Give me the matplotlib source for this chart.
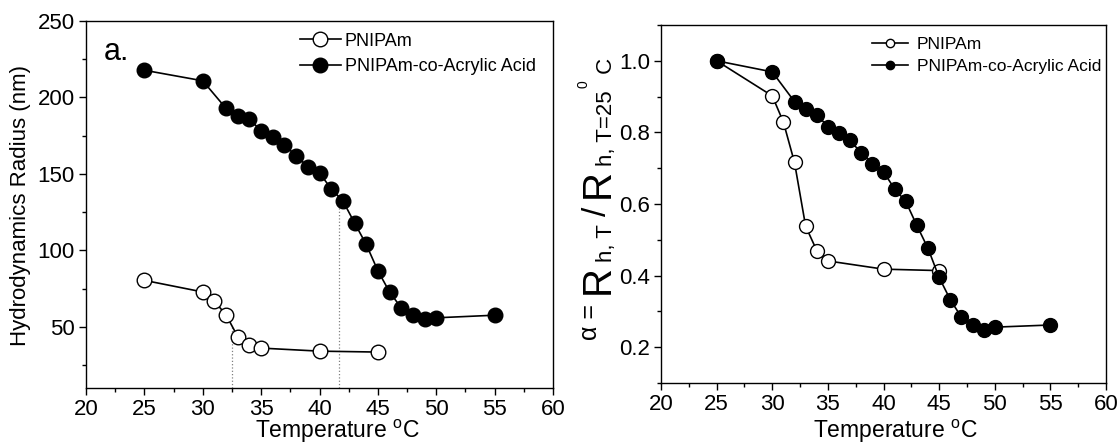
import matplotlib
matplotlib.use("Agg")
import matplotlib.pyplot as plt
from matplotlib.lines import Line2D
from matplotlib.ticker import MultipleLocator, FormatStrFormatter

plt.rcParams['font.family'] = ['Liberation Sans', 'DejaVu Sans']
plt.rcParams['mathtext.fontset'] = 'custom'
plt.rcParams['mathtext.rm'] = 'Liberation Sans'
plt.rcParams['mathtext.it'] = 'Liberation Sans'

# ---- data ----
temp_pnipam = [25, 30, 31, 32, 33, 34, 35, 40, 45]
rh_pnipam = [80.4, 72.8, 66.7, 57.8, 43.5, 37.8, 36.1, 34.1, 33.5]

temp_copoly = [25, 30, 32, 33, 34, 35, 36, 37, 38, 39, 40, 41, 42, 43, 44,
               45, 46, 47, 48, 49, 50, 55]
rh_copoly = [217.8, 210.9, 192.8, 188.0, 185.7, 178.3, 174.3, 169.1, 161.7,
             154.8, 150.7, 140.2, 132.4, 118.0, 103.9, 86.7, 72.8, 62.4, 57.6,
             54.8, 55.9, 57.6]

alpha_pnipam = [1.0, 0.902, 0.829, 0.716, 0.538, 0.470, 0.441, 0.418, 0.414]
alpha_copoly = [1.0, 0.969, 0.886, 0.864, 0.850, 0.816, 0.799, 0.778, 0.742,
                0.713, 0.690, 0.642, 0.607, 0.540, 0.476, 0.395, 0.333, 0.284,
                0.262, 0.248, 0.256, 0.262]

lcst_temps = [32.5, 41.65]
lcst_rh = [50.6, 135.0]

labels = ['PNIPAm', 'PNIPAm-co-Acrylic Acid']

W, H = 1118, 446
fig = plt.figure(figsize=(W / 100, H / 100), dpi=100)

def box(l, r, t, b):
    return [l / W, (H - b) / H, (r - l) / W, (b - t) / H]

ax1 = fig.add_axes(box(86, 553, 21, 388))
ax2 = fig.add_axes(box(661, 1106, 25, 383))

ms = 10.5
xlab = 'Temperature $^{\\mathregular{o}}$C'
for ax in (ax1, ax2):
    ax.set_xlim(20, 60)
    ax.xaxis.set_major_locator(MultipleLocator(5))
    ax.xaxis.set_minor_locator(MultipleLocator(2.5))
    ax.tick_params(which='both', direction='out', top=False, right=False,
                   labelsize=16, width=1, pad=3)
    ax.tick_params(which='major', length=5)
    ax.tick_params(which='minor', length=3)
    for s in ax.spines.values():
        s.set_linewidth(1)

ax1.set_xlabel(xlab, fontsize=16.5)
ax1.xaxis.set_label_coords((337 - 86) / 467, (388 - 418) / 367)
ax2.set_xlabel(xlab, fontsize=16.5)
ax2.xaxis.set_label_coords((895 - 661) / 445, (383 - 418) / 358)

# ---- left panel ----
for t, r in zip(lcst_temps, lcst_rh):
    ax1.plot([t, t], [10, r], color='gray', lw=0.9, ls=':', zorder=1)
ax1.plot(temp_pnipam, rh_pnipam, '-o', color='black', mfc='white', mec='black',
         ms=ms, mew=1, lw=1.2, zorder=3)
ax1.plot(temp_copoly, rh_copoly, '-o', color='black', mfc='black', mec='black',
         ms=ms, mew=1, lw=1.2, zorder=3)
ax1.set_ylim(10, 250)
ax1.yaxis.set_major_locator(MultipleLocator(50))
ax1.yaxis.set_minor_locator(MultipleLocator(25))
ax1.set_ylabel('Hydrodynamics Radius (nm)', fontsize=16)
ax1.yaxis.set_label_coords((31 - 86) / 467, (388 - 206) / 367)
ax1.text(0.0385, 0.894, 'a.', transform=ax1.transAxes, fontsize=22)

h1 = [Line2D([], [], color='black', lw=1.2, marker='o', mfc='white', mec='black', ms=ms),
      Line2D([], [], color='black', lw=1.2, marker='o', mfc='black', mec='black', ms=ms)]
ax1.legend(h1, labels, loc='upper left', bbox_to_anchor=(0.458, 0.968),
           frameon=False, fontsize=13, handlelength=2.27, handletextpad=0.22,
           borderpad=0, borderaxespad=0, labelspacing=0.45)

# ---- right panel ----
ax2.plot(temp_pnipam, alpha_pnipam, '-o', color='black', mfc='white', mec='black',
         ms=10, mew=1, lw=1.2, zorder=3)
ax2.plot(temp_copoly, alpha_copoly, '-o', color='black', mfc='black', mec='black',
         ms=10, mew=1, lw=1.2, zorder=4)
ax2.set_ylim(0.1, 1.1)
ax2.yaxis.set_major_locator(MultipleLocator(0.2))
ax2.yaxis.set_minor_locator(MultipleLocator(0.1))
ax2.yaxis.set_major_formatter(FormatStrFormatter('%.1f'))

h2 = [Line2D([], [], color='black', lw=1.2, marker='o', mfc='white', mec='black', ms=6),
      Line2D([], [], color='black', lw=1.2, marker='o', mfc='black', mec='black', ms=6)]
ax2.legend(h2, labels, loc='upper left', bbox_to_anchor=(0.474, 0.966),
           frameon=False, fontsize=12.5, handlelength=2.07, handletextpad=0.5,
           borderpad=0, borderaxespad=0, labelspacing=0.4)

# ---- composed rotated y label of the right panel ----
# pieces: (text, fontsize, baseline x in px, gap after in px)
pieces = [
    ('\u03b1 =', 18, 597, 10),
    ('R', 29, 609, 3),
    ('h, T', 16, 612, 8),
    ('/', 24, 606, 9),
    ('R', 29, 609, 3),
    ('h, T=25', 16, 612, 2),
    ('0', 10, 587, 0),
    (' C', 16, 612, 0),
]
renderer = fig.canvas.get_renderer()
y_px = H - 340  # display coords, from bottom
for txt, fs, xb, gap in pieces:
    t = fig.text(xb / W, y_px / H, txt, fontsize=fs, rotation=90,
                 rotation_mode='anchor', ha='left', va='baseline')
    ext = t.get_window_extent(renderer)
    y_px += ext.height + gap

fig.savefig('out.png', dpi=100, facecolor='white')
